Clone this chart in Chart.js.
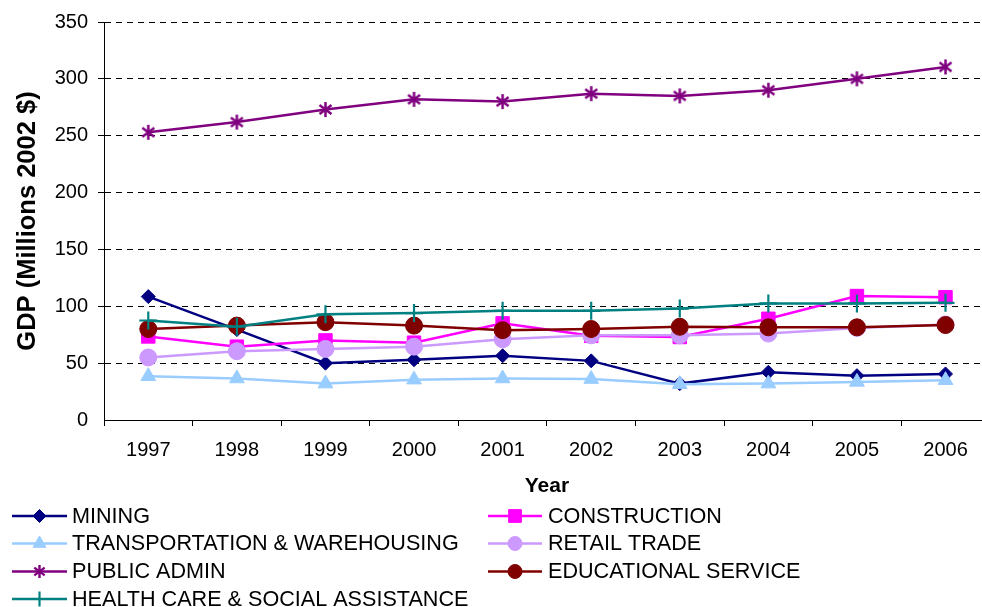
<!DOCTYPE html>
<html>
<head>
<meta charset="utf-8">
<script src="https://cdn.jsdelivr.net/npm/chart.js@4/dist/chart.umd.min.js"></script>
<style>
  html, body { margin: 0; padding: 0; background: #fff; overflow: hidden; }
  #wrap { width: 982px; height: 607px; overflow: hidden; }
</style>
</head>
<body>
<div id="wrap"><canvas id="myChart" width="1001" height="607"></canvas></div>
<script>
const years = ['1997', '1998', '1999', '2000', '2001', '2002', '2003', '2004', '2005', '2006'];
const mining = [108.5, 79.5, 50, 53, 56.5, 52, 32, 42, 39, 40.5];
const construction = [73.5, 64.5, 70, 68, 85, 74, 73, 89, 109, 108];
const transportation = [38.5, 36.5, 32, 35.5, 36.5, 36, 31.5, 32, 33.5, 35];
const retail = [55, 60.5, 62.5, 64.5, 71, 74.5, 74.5, 76, 81, 84];
const publicAdmin = [253, 262, 273, 282, 280, 287, 285, 290, 300, 310.5];
const educational = [80, 83, 86, 83, 79, 80, 82, 81.5, 81.5, 83.5];
const health = [87.5, 82, 93, 94, 96, 96, 98, 102.5, 102.5, 103];
const yTicks = [0, 50, 100, 150, 200, 250, 300, 350];

Chart.defaults.font.family = '"Liberation Sans", Arial, sans-serif';
Chart.defaults.color = '#000';

// asterisk marker like the excel one (vertical bar + X)
function makeStar(color, size, lw) {
  const c = document.createElement('canvas');
  c.width = size; c.height = size;
  const g = c.getContext('2d');
  g.strokeStyle = color;
  g.lineWidth = lw;
  const m = size / 2, r = size / 2 - 1;
  g.beginPath();
  g.moveTo(m, m - r); g.lineTo(m, m + r);
  g.moveTo(m - r * 0.8, m - r * 0.6); g.lineTo(m + r * 0.8, m + r * 0.6);
  g.moveTo(m - r * 0.8, m + r * 0.6); g.lineTo(m + r * 0.8, m - r * 0.6);
  g.stroke();
  return c;
}
const starBig = makeStar('#800080', 17, 2.5);
const starSmall = makeStar('#800080', 15, 2.4);

function series(label, data, color, style, radius) {
  return {
    label: label,
    data: data,
    borderColor: color,
    backgroundColor: color,
    borderWidth: 2.5,
    pointStyle: style,
    pointRadius: radius,
    pointHoverRadius: radius,
    pointBackgroundColor: color,
    pointBorderColor: color,
    pointBorderWidth: style === 'cross' ? 2.2 : 1,
    tension: 0
  };
}

const datasets = [
  series('MINING', mining, '#000080', 'rectRot', 7),
  series('CONSTRUCTION', construction, '#FF00FF', 'rect', 9.5),
  series('TRANSPORTATION & WAREHOUSING', transportation, '#99CCFF', 'triangle', 8.5),
  series('RETAIL TRADE', retail, '#CC99FF', 'circle', 8.5),
  series('PUBLIC ADMIN', publicAdmin, '#800080', starBig, 8),
  series('EDUCATIONAL SERVICE', educational, '#800000', 'circle', 8.5),
  series('HEALTH CARE & SOCIAL ASSISTANCE', health, '#008080', 'cross', 9)
];
// later series on top
datasets.forEach((d, i) => { d.order = datasets.length - i; });

const legendRowsY = [516, 543.5, 571.5, 599];
const legendRadius = { rectRot: 6.5, rect: 9, triangle: 7.5, circle: 7, cross: 7.5 };

const bottomLegend = {
  id: 'bottomLegend',
  afterDraw(chart) {
    const ctx = chart.ctx;
    ctx.save();
    ctx.font = '21.6px "Liberation Sans", Arial, sans-serif';
    ctx.textBaseline = 'middle';
    chart.data.datasets.forEach((ds, i) => {
      const col = i % 2, row = Math.floor(i / 2);
      const x0 = col ? 488 : 12, x1 = col ? 542 : 67, tx = col ? 548 : 72;
      const y = legendRowsY[row];
      ctx.strokeStyle = ds.borderColor;
      ctx.lineWidth = ds.borderWidth;
      ctx.beginPath(); ctx.moveTo(x0, y); ctx.lineTo(x1, y); ctx.stroke();
      ctx.fillStyle = ds.pointBackgroundColor;
      ctx.strokeStyle = ds.pointBorderColor;
      ctx.lineWidth = ds.pointBorderWidth;
      const st = ds.pointStyle === starBig ? starSmall : ds.pointStyle;
      const r = legendRadius[st] || 7;
      Chart.helpers.drawPoint(ctx, { pointStyle: st, radius: r, rotation: 0, borderWidth: ds.pointBorderWidth }, (x0 + x1) / 2, y);
      ctx.fillStyle = '#000';
      ctx.fillText(ds.label, tx, y + 1);
    });
    ctx.restore();
  }
};

var ctx = document.getElementById('myChart');

var myChart = new Chart(ctx, {
  type: 'line',
  data: { labels: years, datasets: datasets },
  plugins: [bottomLegend],
  options: {
    responsive: false,
    animation: false,
    devicePixelRatio: 1,
    layout: { padding: { top: 21, bottom: 107, left: 0, right: 0 } },
    plugins: { legend: { display: false }, tooltip: { enabled: false } },
    scales: {
      x: {
        offset: true,
        grid: { display: true, drawOnChartArea: false, drawTicks: true, tickLength: 6, color: '#000', offset: true },
        border: { display: true, color: '#000', width: 1 },
        ticks: { font: { size: 20 }, padding: 12, maxRotation: 0 },
        title: { display: true, text: 'Year', font: { size: 21, weight: 'bold' }, padding: { top: 0, bottom: 1 } },
        afterFit(scale) { scale.height = 80; }
      },
      y: {
        min: 0,
        max: 350,
        afterBuildTicks(scale) { scale.ticks = yTicks.map(v => ({ value: v })); },
        grid: {
          color: '#000',
          lineWidth: c => (c.tick && c.tick.value === 0 ? 0 : 1),
          drawTicks: true,
          tickLength: 6,
          tickColor: '#000'
        },
        border: { display: true, color: '#000', width: 1, dash: [6, 5] },
        ticks: { font: { size: 20 }, padding: 10 },
        title: { display: true, text: 'GDP (Millions 2002 $)', font: { size: 25.5, weight: 'bold' }, padding: { top: 13, bottom: 0 } },
        afterFit(scale) { scale.width = 104; }
      }
    }
  }
});
</script>
</body>
</html>
